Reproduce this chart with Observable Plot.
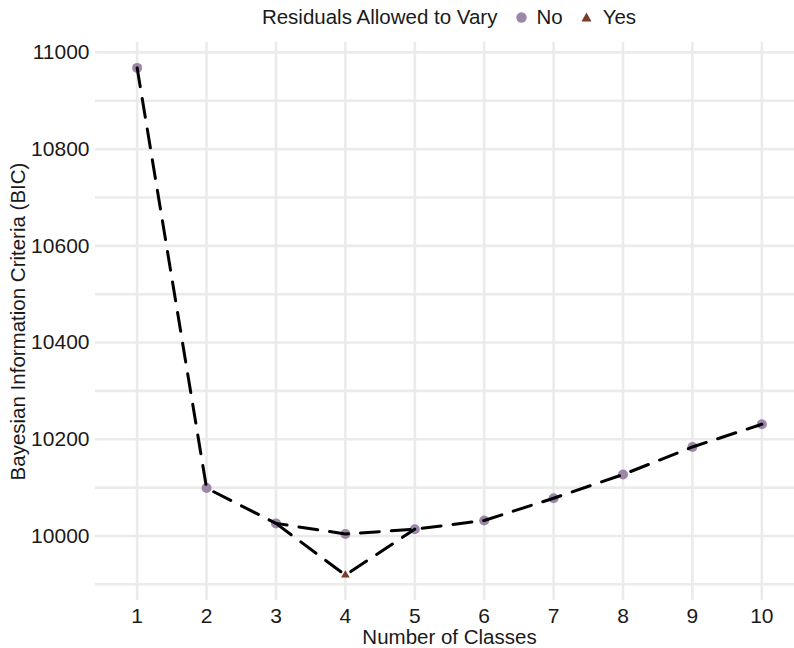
<!DOCTYPE html>
<html>
<head>
<meta charset="utf-8">
<script src="https://cdn.jsdelivr.net/npm/d3@7"></script>
<script src="https://cdn.jsdelivr.net/npm/@observablehq/plot@0.6"></script>
<style>
  html, body { margin: 0; padding: 0; background: #fff; overflow: hidden; }
  body { width: 794px; height: 648px; font-family: "Liberation Sans", Arial, sans-serif; }
  #legend { width: 898px; height: 34px; display: flex; justify-content: center; align-items: center;
            font-size: 20.5px; color: #1a1a1a; white-space: nowrap; }
  #legend .sym { display: inline-block; }
</style>
</head>
<body>
<div id="legend"></div>
<div id="chart"></div>
<script>
// ---- data ----
const classes = [1, 2, 3, 4, 5, 6, 7, 8, 9, 10];
const bicNo = [10968, 10099, 10026, 10004, 10014, 10032, 10078, 10127, 10184, 10231];
const yesClasses = [4];
const bicYes = [9919];
const yTickValues = [10000, 10200, 10400, 10600, 10800, 11000];
const yGridValues = [9900, 10000, 10100, 10200, 10300, 10400, 10500, 10600, 10700, 10800, 10900, 11000];
const legendTitle = "Residuals Allowed to Vary";
const legendLabels = ["No", "Yes"];
const colorNo = "#9c87a8";
const colorYes = "#7b3b2a";

const noData = classes.map((c, i) => ({k: c, bic: bicNo[i]}));
const yesData = yesClasses.map((c, i) => ({k: c, bic: bicYes[i]}));
// detour path through the "Yes" solution: neighbour classes from the "No" series
const detour = [];
yesData.forEach(d => {
  const i = classes.indexOf(d.k);
  if (i > 0) detour.push(noData[i - 1]);
  detour.push(d);
  if (i < classes.length - 1) detour.push(noData[i + 1]);
});

// ---- legend ----
const legend = document.getElementById("legend");
legend.innerHTML =
  `<span>${legendTitle}</span>` +
  `<svg class="sym" width="11" height="11" style="margin-left:19px;margin-right:9px"><circle cx="5.5" cy="5.5" r="5.2" fill="${colorNo}"/></svg>` +
  `<span>${legendLabels[0]}</span>` +
  `<svg class="sym" width="11" height="10" style="margin-left:18px;margin-right:11px"><polygon points="5.5,0.5 10.5,9.5 0.5,9.5" fill="${colorYes}"/></svg>` +
  `<span>${legendLabels[1]}</span>`;

// ---- chart ----
const grid = "#ebebeb";
const font = "Liberation Sans, Arial, sans-serif";
const chart = Plot.plot({
  width: 794,
  height: 614,
  marginLeft: 95,
  marginRight: -9,
  marginTop: 8,
  marginBottom: 48,
  style: {fontFamily: font, background: "#fff", overflow: "hidden"},
  x: {domain: [0.4, 10.6]},
  y: {domain: [9866.5, 11020.5]},
  marks: [
    Plot.ruleY(yGridValues, {stroke: grid, strokeWidth: 2.6}),
    Plot.ruleX(classes, {stroke: grid, strokeWidth: 2.6}),
    Plot.axisX({ticks: classes, tickSize: 0, tickPadding: 8, fontSize: 21, fill: "#1a1a1a", label: null, tickFormat: d => String(d)}),
    Plot.axisY({ticks: yTickValues, tickSize: 0, tickPadding: 6, fontSize: 21, fill: "#1a1a1a", label: null, tickFormat: d => String(d)}),
    Plot.text(["Number of Classes"], {frameAnchor: "bottom", dy: 37, fontSize: 20.5, fill: "#1a1a1a", lineAnchor: "middle", textAnchor: "middle"}),
    Plot.text(["Bayesian Information Criteria (BIC)"], {frameAnchor: "left", dx: -77, rotate: -90, fontSize: 20.5, fill: "#1a1a1a", lineAnchor: "middle", textAnchor: "middle"}),
    Plot.dot(noData, {x: "k", y: "bic", r: 5, fill: colorNo, stroke: null}),
    Plot.dot(yesData, {x: "k", y: "bic", r: 3.2, symbol: "triangle", fill: colorYes, stroke: null}),
    Plot.line(noData, {x: "k", y: "bic", stroke: "#000", strokeWidth: 3, strokeDasharray: "19,12"}),
    Plot.line(detour, {x: "k", y: "bic", stroke: "#000", strokeWidth: 3, strokeDasharray: "19,12"})
  ]
});
document.getElementById("chart").appendChild(chart);
</script>
</body>
</html>
